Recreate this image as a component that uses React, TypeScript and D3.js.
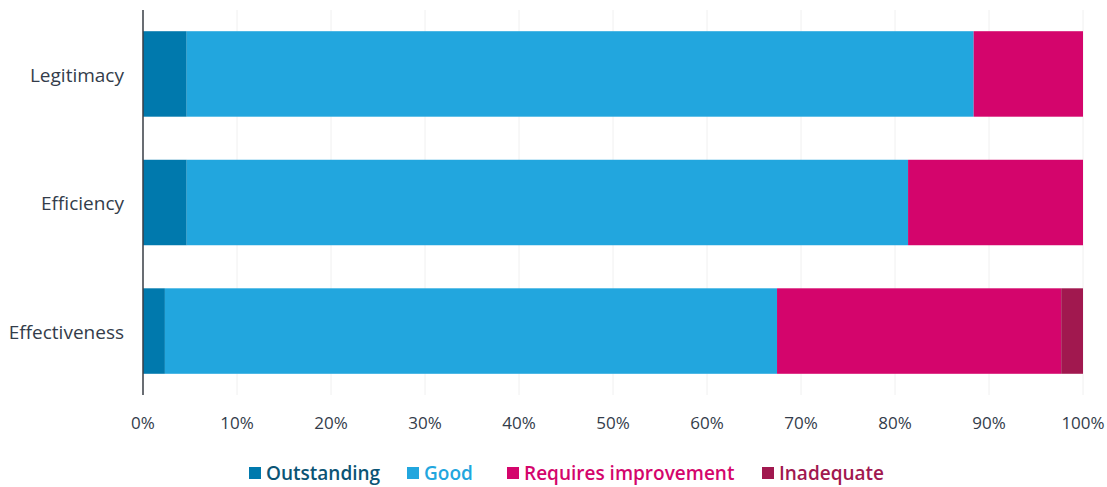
import React from "react";
import * as d3 from "d3";

const categories = ["Legitimacy", "Efficiency", "Effectiveness"];
const seriesNames = ["Outstanding", "Good", "Requires improvement", "Inadequate"];
const outstanding = [4.65, 4.65, 2.33];
const good = [83.72, 76.74, 65.12];
const requiresImprovement = [11.63, 18.61, 30.23];
const inadequate = [0, 0, 2.32];
const tickValues = [0, 10, 20, 30, 40, 50, 60, 70, 80, 90, 100];
const colors = ["#0079AD", "#22A6DE", "#D4056C", "#A1184F"];
const legendTextColors = ["#0B5475", "#22A6DE", "#D4056C", "#A1184F"];

const W = 1107;
const H = 487;
const margin = { left: 143, right: 24, top: 10, bottom: 92 };

export default function App() {
  const x = d3.scaleLinear().domain([0, 100]).range([margin.left, W - margin.right]);
  const y = d3
    .scaleBand<string>()
    .domain(categories)
    .range([margin.top, H - margin.bottom])
    .paddingInner(0.335)
    .paddingOuter(0.165);

  const rows = categories.map((c, i) => ({
    cat: c,
    Outstanding: outstanding[i],
    Good: good[i],
    "Requires improvement": requiresImprovement[i],
    Inadequate: inadequate[i],
  }));
  const stacked = d3.stack<any>().keys(seriesNames)(rows);

  const legendX = [249, 407, 507, 762];
  const font = "'Open Sans', sans-serif";

  return (
    <svg width={W} height={H} style={{ position: "absolute", left: 0, top: 0, fontFamily: font }}>
      {tickValues.map((t) => (
        <line key={"g" + t} x1={x(t)} x2={x(t)} y1={margin.top} y2={H - margin.bottom} stroke="#f0f0f0" strokeWidth={1} />
      ))}
      {stacked.map((s, si) =>
        s.map((d, i) => (
          <rect
            key={si + "-" + i}
            x={x(d[0])}
            y={y(categories[i])}
            width={Math.max(0, x(d[1]) - x(d[0]))}
            height={y.bandwidth()}
            fill={colors[si]}
          />
        ))
      )}
      <line x1={margin.left} x2={margin.left} y1={margin.top} y2={H - margin.bottom} stroke="#3a3f47" strokeWidth={1.5} />
      {categories.map((c) => (
        <text key={c} x={margin.left - 19} y={(y(c) as number) + y.bandwidth() / 2 + 1} dy="0.35em" textAnchor="end" fontSize={19} fill="#333c4a">
          {c}
        </text>
      ))}
      {tickValues.map((t) => (
        <text key={"t" + t} x={x(t)} y={423} dy="0.35em" textAnchor="middle" fontSize={17} fill="#333c4a">
          {t + "%"}
        </text>
      ))}
      {seriesNames.map((n, i) => (
        <g key={n}>
          <rect x={legendX[i]} y={467} width={12} height={12} fill={colors[i]} />
          <text x={legendX[i] + 17} y={473} dy="0.35em" fontSize={19} fontWeight={600} fill={legendTextColors[i]}>
            {n}
          </text>
        </g>
      ))}
    </svg>
  );
}
